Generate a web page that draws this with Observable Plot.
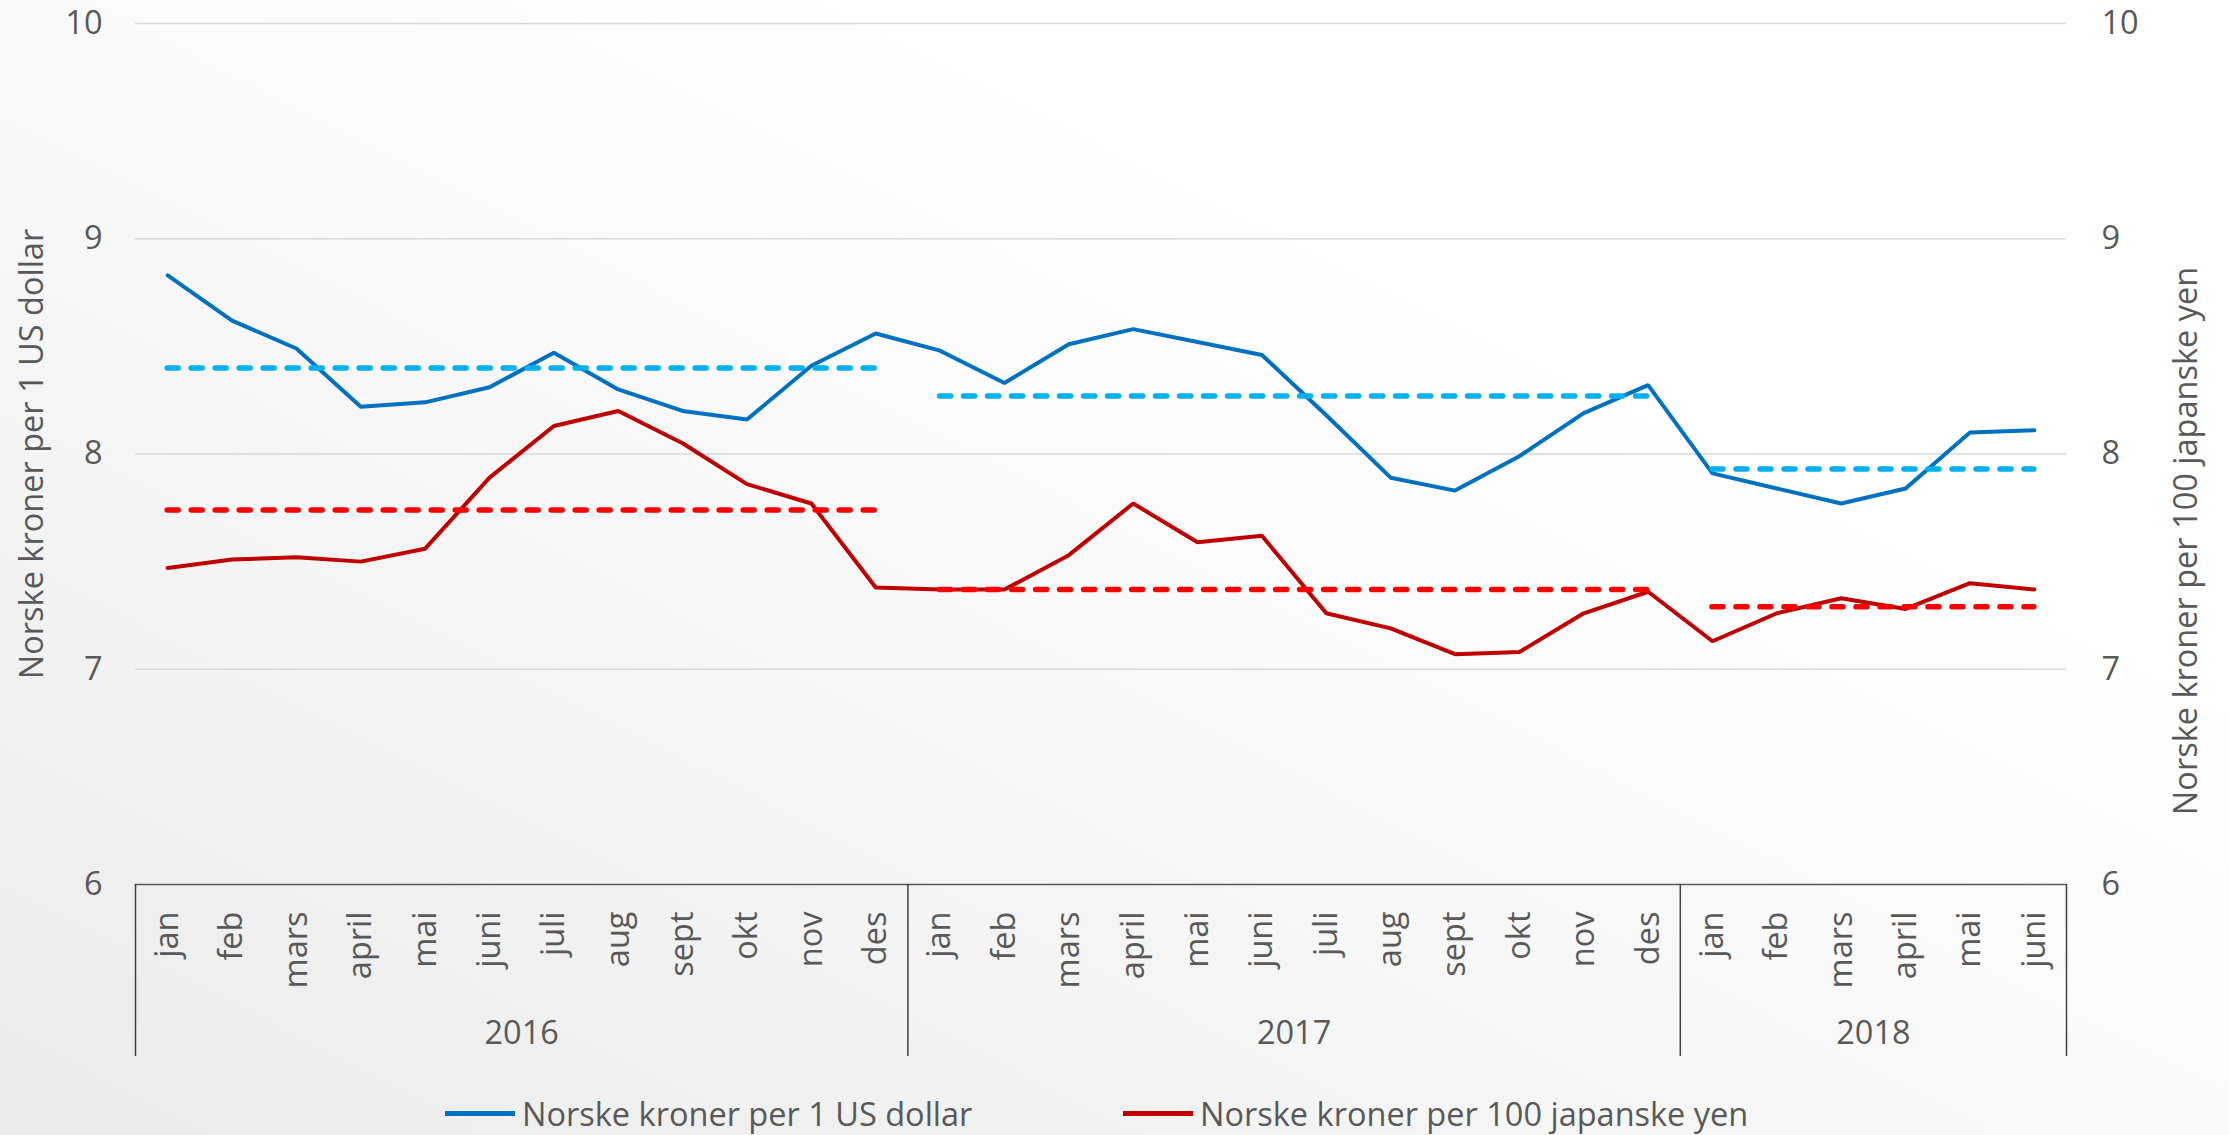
<!DOCTYPE html>
<html><head><meta charset="utf-8">
<script src="https://cdn.jsdelivr.net/npm/d3@7"></script>
<script src="https://cdn.jsdelivr.net/npm/@observablehq/plot@0.6"></script>
<style>
html,body{margin:0;padding:0;}
body{width:2229px;height:1135px;overflow:hidden;font-family:"Open Sans",sans-serif;
background:linear-gradient(to top right,#ebebeb 0%,#f7f7f7 40%,#ffffff 70%);}
#chart svg{display:block;}
#legend{position:relative;height:55px;}
.item{position:absolute;top:6px;height:55px;display:flex;align-items:center;color:#595959;font-size:32.5px;white-space:nowrap;}
.sw{display:inline-block;width:70px;height:5px;margin-right:7px;}
</style></head>
<body><div id="chart"></div><div id="legend"></div>
<script>
const months = ["jan","feb","mars","april","mai","juni","juli","aug","sept","okt","nov","des",
                "jan","feb","mars","april","mai","juni","juli","aug","sept","okt","nov","des",
                "jan","feb","mars","april","mai","juni"];
const years = ["2016","2017","2018"];
const monthsPerYear = [12,12,6];
const usd = [8.83,8.62,8.49,8.22,8.24,8.31,8.47,8.30,8.20,8.16,8.41,8.56,
             8.48,8.33,8.51,8.58,8.52,8.46,8.18,7.89,7.83,7.99,8.19,8.32,
             7.91,7.84,7.77,7.84,8.10,8.11];
const jpy = [7.47,7.51,7.52,7.50,7.56,7.89,8.13,8.20,8.05,7.86,7.77,7.38,
             7.37,7.37,7.53,7.77,7.59,7.62,7.26,7.19,7.07,7.08,7.26,7.36,
             7.13,7.26,7.33,7.28,7.40,7.37];
const usdAvg = [8.40,8.27,7.93];
const jpyAvg = [7.74,7.37,7.29];
const yTicks = [6,7,8,9,10];
const seriesNames = ["Norske kroner per 1 US dollar","Norske kroner per 100 japanske yen"];

const W = 2229, H = 1080, mL = 135, mR = 163, mT = 23, mB = 196;
const frameH = H - mT - mB;
const text = "#595959";
const FS = 32.5;

const rows = months.map((m,i)=>({i, month:m, usd:usd[i], jpy:jpy[i]}));
let start = 0;
const spans = years.map((y,k)=>{const s={year:y, start, end:start+monthsPerYear[k]-1, mid:start+(monthsPerYear[k]-1)/2, usd:usdAvg[k], jpy:jpyAvg[k]}; start+=monthsPerYear[k]; return s;});
const bounds = [-0.5, ...spans.map(s=>s.end+0.5)];

const chart = Plot.plot({
  width: W, height: H, marginLeft: mL, marginRight: mR, marginTop: mT, marginBottom: mB,
  style: {background:"transparent", fontFamily:"'Open Sans', sans-serif", fontSize:FS+"px", color:text},
  x: {type:"linear", domain:[-0.5, months.length-0.5], axis:null},
  y: {domain:[6,10], axis:null},
  marks: [
    Plot.ruleY([7,8,9,10], {stroke:"#d9d9d9", strokeWidth:1.5}),
    Plot.ruleY([6], {stroke:"#595959", strokeWidth:1.5}),
    Plot.ruleX(bounds, {stroke:"#404040", strokeWidth:1.5, insetTop:frameH, insetBottom:-172}),
    Plot.axisY({anchor:"left", ticks:yTicks, tickFormat:d=>String(d), tickSize:0, tickPadding:33, label:null, fontSize:FS, fill:text}),
    Plot.axisY({anchor:"right", ticks:yTicks, tickFormat:d=>String(d), tickSize:0, tickPadding:35, label:null, fontSize:FS, fill:text}),
    Plot.text([seriesNames[0]], {frameAnchor:"left", rotate:-90, dx:-116, textAnchor:"middle", lineAnchor:"top", fontSize:FS, fill:text}),
    Plot.text([seriesNames[1]], {frameAnchor:"right", rotate:-90, dx:107, dy:87, textAnchor:"middle", lineAnchor:"top", fontSize:FS, fill:text}),
    Plot.text(rows, {x:"i", text:"month", frameAnchor:"bottom", dy:27, rotate:-90, textAnchor:"end", lineAnchor:"middle", fontSize:FS, fill:text}),
    Plot.text(spans, {x:"mid", text:"year", frameAnchor:"bottom", dy:149, lineAnchor:"middle", fontSize:FS, fill:text}),
    Plot.line(rows, {x:"i", y:"jpy", stroke:"#C00000", strokeWidth:4, strokeLinejoin:"miter"}),
    Plot.line(rows, {x:"i", y:"usd", stroke:"#0070C0", strokeWidth:4, strokeLinejoin:"miter"}),
    Plot.ruleY(spans, {y:"jpy", x1:"start", x2:"end", stroke:"#FF0000", strokeWidth:5.5, strokeDasharray:"11 13", strokeLinecap:"round"}),
    Plot.ruleY(spans, {y:"usd", x1:"start", x2:"end", stroke:"#00B0F0", strokeWidth:5.5, strokeDasharray:"11 13", strokeLinecap:"round"})
  ]
});
document.getElementById("chart").appendChild(chart);

const legend = document.getElementById("legend");
const items = [{name:seriesNames[0], color:"#0070C0", left:445},{name:seriesNames[1], color:"#C00000", left:1123}];
for (const it of items) {
  const d = document.createElement("div");
  d.className = "item"; d.style.left = it.left + "px";
  const s = document.createElement("span"); s.className = "sw"; s.style.background = it.color;
  d.appendChild(s); d.appendChild(document.createTextNode(it.name));
  legend.appendChild(d);
}
</script>
</body></html>
